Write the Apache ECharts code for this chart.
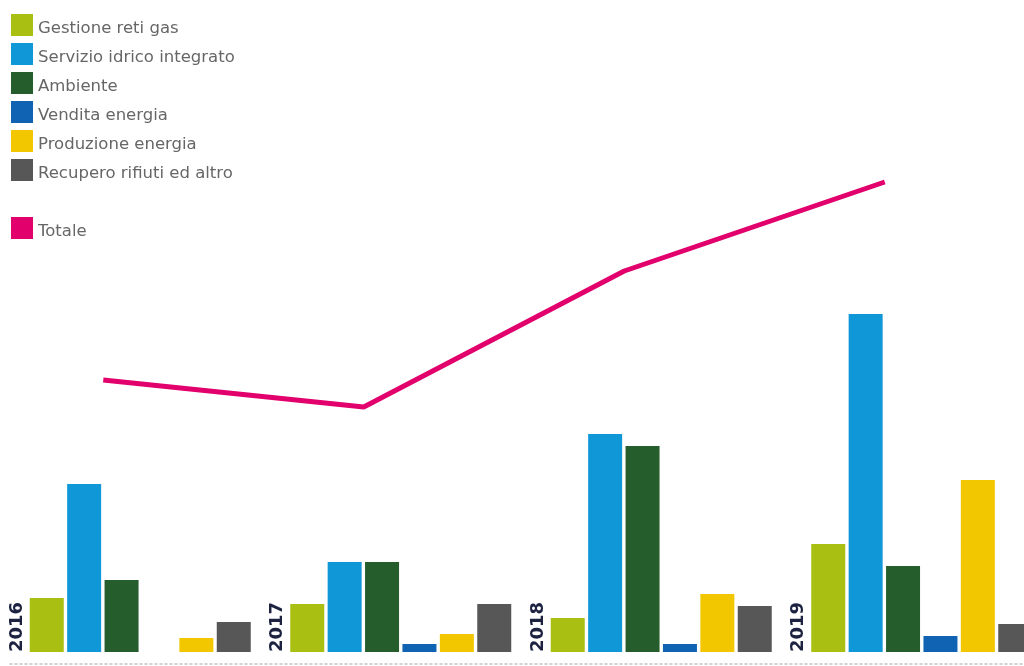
<!DOCTYPE html>
<html>
<head>
<meta charset="utf-8">
<script src="https://cdn.jsdelivr.net/npm/echarts@6/dist/echarts.min.js"></script>
<style>
html,body{margin:0;padding:0;background:#fff;}
#chart{width:1024px;height:666px;}
</style>
</head>
<body>
<div id="chart"></div>
<script>
const years = ['2016', '2017', '2018', '2019'];
const gestioneRetiGas = [5.4, 4.8, 3.4, 10.8];
const servizioIdrico = [16.8, 9.0, 21.8, 33.8];
const ambiente = [7.2, 9.0, 20.6, 8.6];
const venditaEnergia = [0, 0.8, 0.8, 1.6];
const produzioneEnergia = [1.4, 1.8, 5.8, 17.2];
const recuperoRifiuti = [3.0, 4.8, 4.6, 2.8];
const totale = [34.4, 29.0, 56.2, 74.0];

const barNames = ['Gestione reti gas', 'Servizio idrico integrato', 'Ambiente', 'Vendita energia', 'Produzione energia', 'Recupero rifiuti ed altro'];
const barData = [gestioneRetiGas, servizioIdrico, ambiente, venditaEnergia, produzioneEnergia, recuperoRifiuti];
const barColors = ['#a9bf12', '#1097d8', '#255d2c', '#0f63b2', '#f2c700', '#575757'];

const chart = echarts.init(document.getElementById('chart'));
const gridBase = {top: 52, height: 600, width: 1042, containLabel: false, outerBoundsMode: 'none'};
const bars = barNames.map((n, i) => ({
  name: n, type: 'bar', xAxisIndex: 0, yAxisIndex: 0,
  data: barData[i], barWidth: 34, barGap: '10%',
  itemStyle: {color: barColors[i]}, silent: true
}));
const legendText = {
  fontFamily: 'DejaVu Sans', fontSize: 16.5, color: '#666',
  rich: {t: {fontFamily: 'DejaVu Sans', fontSize: 16.5, color: '#666', padding: [7, 0, 0, 0]}}
};
const legendFmt = (name) => '{t|' + name + '}';
chart.setOption({
  animation: false,
  backgroundColor: '#ffffff',
  legend: [{
    data: barNames, orient: 'vertical', left: 11, top: 14, padding: 0,
    itemWidth: 22, itemHeight: 22, itemGap: 6, icon: 'rect',
    textStyle: legendText, formatter: legendFmt
  }, {
    data: ['Totale'], orient: 'vertical', left: 11, top: 217, padding: 0,
    itemWidth: 22, itemHeight: 22, icon: 'rect',
    textStyle: legendText, formatter: legendFmt
  }],
  grid: [
    Object.assign({left: 10}, gridBase),
    Object.assign({left: -27}, gridBase),
    Object.assign({left: -113}, gridBase),
    {left: 10, right: 0, top: 52, height: 612, containLabel: false, outerBoundsMode: 'none'}
  ],
  xAxis: [
    {type: 'category', gridIndex: 0, data: years,
     axisLine: {show: false}, axisTick: {show: false}, axisLabel: {show: false}},
    {type: 'category', gridIndex: 1, data: years, show: false},
    {type: 'category', gridIndex: 2, data: years,
     axisLine: {show: false}, axisTick: {show: false},
     axisLabel: {inside: true, rotate: 90, margin: 0, fontFamily: 'DejaVu Sans', fontWeight: 'bold', fontSize: 18, color: '#1c2240'}},
    {type: 'category', gridIndex: 3, data: years,
     axisLine: {show: true, lineStyle: {color: '#c4c4c4', type: [2, 3], width: 1.5}},
     axisTick: {show: false}, axisLabel: {show: false}}
  ],
  yAxis: [
    {type: 'value', gridIndex: 0, min: 0, max: 60, show: false, splitLine: {show: false}},
    {type: 'value', gridIndex: 1, min: -20, max: 100, show: false, splitLine: {show: false}},
    {type: 'value', gridIndex: 2, min: 0, max: 1, show: false, splitLine: {show: false}},
    {type: 'value', gridIndex: 3, min: 0, max: 1, show: false, splitLine: {show: false}}
  ],
  series: bars.concat([{
    name: 'Totale', type: 'line', xAxisIndex: 1, yAxisIndex: 1,
    data: totale, showSymbol: false, symbol: 'none',
    lineStyle: {color: '#e2006d', width: 5}, itemStyle: {color: '#e2006d'}, silent: true
  }])
});
</script>
</body>
</html>
